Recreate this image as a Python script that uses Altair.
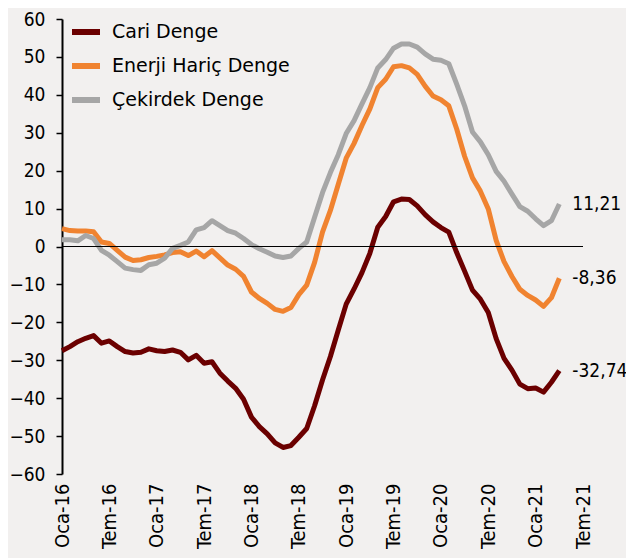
import altair as alt
import pandas as pd

series_names = ["Cari Denge", "Enerji Hariç Denge", "Çekirdek Denge"]
series_colors = ["#6B0000", "#F08330", "#A6A6A6"]

tick_labels = ["Oca-16", "Tem-16", "Oca-17", "Tem-17", "Oca-18", "Tem-18",
               "Oca-19", "Tem-19", "Oca-20", "Tem-20", "Oca-21", "Tem-21"]

# monthly values, Oca-16 .. Nis-21
cari = [-27.5, -26.4, -25.1, -24.2, -23.5, -25.5, -24.9, -26.4, -27.7, -28.1,
        -27.9, -27.0, -27.5, -27.7, -27.3, -27.9, -29.9, -28.7, -30.8, -30.4,
        -33.4, -35.5, -37.4, -40.3, -45.0, -47.5, -49.4, -51.8, -53.0, -52.5,
        -50.3, -48.0, -42.0, -35.2, -29.0, -22.0, -15.2, -11.2, -6.9, -1.8,
        5.1, 7.9, 11.8, 12.5, 12.4, 10.7, 8.4, 6.5, 5.0, 3.8,
        -1.6, -6.5, -11.5, -13.9, -17.4, -24.3, -29.5, -32.6, -36.3, -37.5,
        -37.3, -38.4, -35.8, -32.74]
enerji_haric = [4.7, 4.2, 4.1, 4.1, 3.9, 1.2, 0.8, -1.0, -2.8, -3.7,
                -3.5, -2.9, -2.6, -2.2, -1.6, -1.4, -2.4, -1.2, -2.7, -1.1,
                -3.0, -4.9, -6.0, -7.9, -12.0, -13.7, -15.0, -16.6, -17.1, -16.1,
                -12.7, -10.2, -4.2, 3.8, 9.5, 16.4, 23.3, 27.2, 31.9, 36.3,
                41.9, 44.1, 47.4, 47.7, 47.1, 45.4, 42.3, 39.7, 38.7, 37.1,
                31.0, 23.8, 18.1, 14.6, 9.9, 1.6, -4.0, -7.9, -11.3, -12.9,
                -14.1, -15.8, -13.5, -8.36]
cekirdek = [1.8, 1.8, 1.5, 2.9, 2.1, -1.0, -2.3, -4.0, -5.7, -6.1,
            -6.3, -4.8, -4.4, -3.1, -0.5, 0.3, 1.2, 4.4, 5.0, 6.8,
            5.5, 4.2, 3.5, 2.1, 0.5, -0.6, -1.5, -2.5, -2.9, -2.5,
            -0.5, 1.2, 7.7, 14.2, 19.5, 24.2, 29.8, 33.2, 37.6, 41.9,
            47.1, 49.3, 52.3, 53.4, 53.4, 52.6, 50.8, 49.4, 49.1, 48.2,
            42.8, 37.1, 30.2, 27.6, 24.2, 19.8, 17.2, 13.8, 10.5, 9.3,
            7.3, 5.5, 6.8, 11.21]
end_labels = ["-32,74", "-8,36", "11,21"]

rows = []
for name, vals in zip(series_names, [cari, enerji_haric, cekirdek]):
    for i, v in enumerate(vals):
        rows.append({"m": i, "v": v, "s": name})
df = pd.DataFrame(rows)

last = pd.DataFrame({
    "m": [len(cari) - 1] * 3,
    "v": [cari[-1], enerji_haric[-1], cekirdek[-1]],
    "t": end_labels,
})

label_arr = "[" + ",".join("'" + t + "'" for t in tick_labels) + "]"
AX_FONT = "DejaVu Sans Condensed, sans-serif"

x_scale = alt.Scale(domain=[0, 66], nice=False, zero=False)
y_scale = alt.Scale(domain=[-60, 60], nice=False)
x_axis = alt.Axis(values=list(range(0, 67, 6)),
                  labelExpr=label_arr + "[round(datum.value/6)]",
                  labelAngle=-90, labelFont=AX_FONT,
                  labelFontSize=20, labelColor="#000000",
                  labelPadding=9, ticks=False, domain=False,
                  labelOverlap=False, labelFlush=False,
                  grid=False, title=None)
y_axis = alt.Axis(values=list(range(-60, 61, 10)),
                  labelFont=AX_FONT, labelFontSize=19,
                  labelColor="#000000", labelPadding=11,
                  labelOverlap=False, labelFlush=False,
                  tickSize=6, tickColor="#000000", tickWidth=1.5,
                  domainColor="#000000", domainWidth=2,
                  grid=False, title=None)

lines = alt.Chart(df).mark_line(strokeWidth=5, strokeCap="butt", strokeJoin="round").encode(
    x=alt.X("m:Q", scale=x_scale, axis=x_axis),
    y=alt.Y("v:Q", scale=y_scale, axis=y_axis),
    color=alt.Color("s:N",
                    scale=alt.Scale(domain=series_names, range=series_colors),
                    sort=series_names,
                    legend=alt.Legend(orient="none", legendX=7, legendY=-4,
                                      title=None, symbolType="stroke",
                                      symbolSize=784, symbolStrokeWidth=6,
                                      labelFont="DejaVu Sans", labelFontSize=19,
                                      labelColor="#000000", labelOffset=9,
                                      labelLimit=400,
                                      rowPadding=5, padding=0)),
    order="m:Q",
)

zero = alt.Chart(pd.DataFrame({"z": [0]})).mark_rule(color="#000000", strokeWidth=1).encode(
    y=alt.Y("z:Q", scale=y_scale, axis=y_axis))

texts = alt.Chart(last).mark_text(align="left", baseline="middle", dx=13,
                                  font="DejaVu Sans Condensed", fontSize=19,
                                  color="#000000").encode(
    x=alt.X("m:Q", scale=x_scale, axis=x_axis),
    y=alt.Y("v:Q", scale=y_scale, axis=y_axis),
    text="t:N")

chart = alt.layer(lines, zero, texts).properties(
    width=521, height=455,
    autosize=alt.AutoSizeParams(type="none"),
    padding={"left": 54, "top": 11, "right": 43, "bottom": 84},
    background="#F2F0EF",
).configure_view(stroke=None, fill="#F2F0EF")

chart.save("out.html", embed_options={"renderer": "svg", "actions": False})
